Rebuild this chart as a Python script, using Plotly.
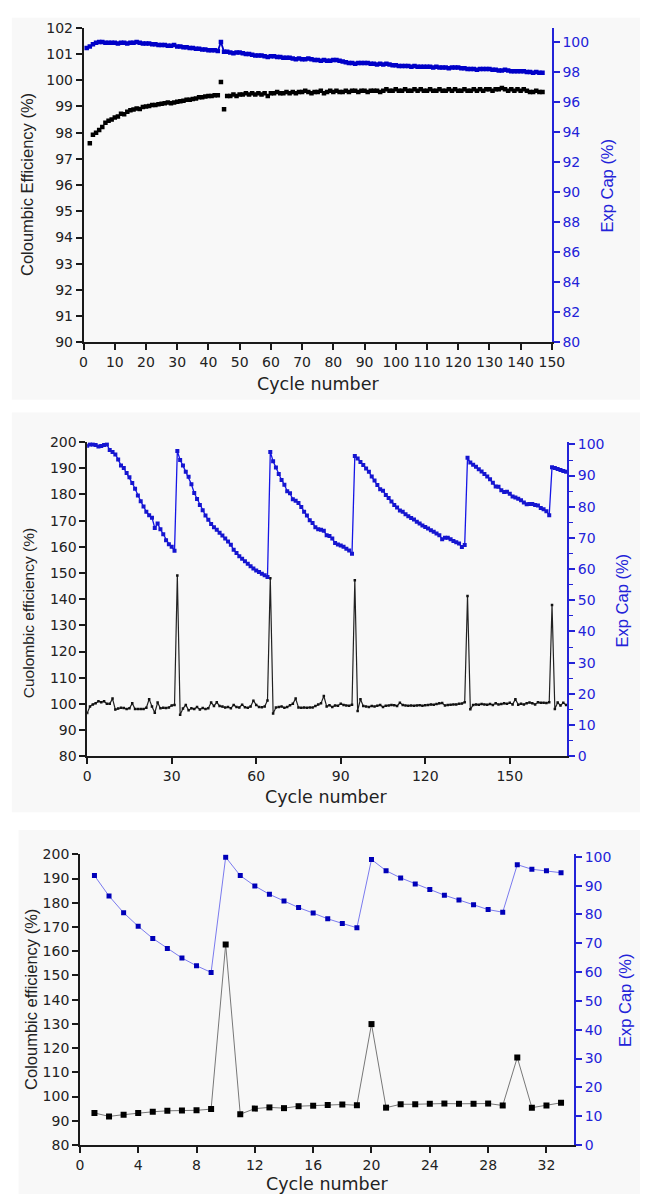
import plotly.graph_objects as go

W, H = 653, 1202

# ---------------- Panel 1 data ----------------
p1_ce_cycles = list(range(2, 148))
p1_ce = [97.6, 97.92, 98.0, 98.1, 98.22, 98.38, 98.45, 98.5, 98.58, 98.62,
         98.72, 98.7, 98.8, 98.85, 98.88, 98.92, 98.9, 98.98, 99.0, 99.02,
         99.05, 99.05, 99.08, 99.1, 99.12, 99.15, 99.12, 99.15, 99.18, 99.2,
         99.22, 99.25, 99.25, 99.28, 99.3, 99.35, 99.35, 99.38, 99.4, 99.4,
         99.43, 99.43, 99.93, 98.89, 99.4, 99.4, 99.45, 99.4, 99.45, 99.45,
         99.5, 99.45, 99.5, 99.45, 99.5, 99.45, 99.5, 99.4, 99.5, 99.5,
         99.55, 99.5, 99.5, 99.55, 99.5, 99.55, 99.5, 99.55, 99.55, 99.6,
         99.55, 99.5, 99.55, 99.55, 99.6, 99.5, 99.55, 99.6, 99.55, 99.6,
         99.55, 99.55, 99.6, 99.55, 99.6, 99.6, 99.55, 99.6, 99.6, 99.55,
         99.6, 99.6, 99.6, 99.55, 99.6, 99.65, 99.6, 99.6, 99.65, 99.6,
         99.6, 99.65, 99.6, 99.6, 99.65, 99.6, 99.65, 99.6, 99.6, 99.65,
         99.6, 99.6, 99.65, 99.6, 99.6, 99.65, 99.6, 99.65, 99.6, 99.6,
         99.65, 99.6, 99.6, 99.65, 99.6, 99.65, 99.6, 99.65, 99.65, 99.6,
         99.65, 99.65, 99.7, 99.65, 99.6, 99.65, 99.6, 99.65, 99.6, 99.65,
         99.6, 99.55, 99.55, 99.6, 99.55, 99.55]
p1_cap_cycles = list(range(1, 148))
p1_cap = [99.6, 99.7, 99.85, 99.95, 100.0, 100.0, 99.95, 99.95, 99.95, 99.95,
          99.9, 99.95, 99.95, 99.9, 99.95, 99.95, 100.0, 99.95, 99.9, 99.9,
          99.9, 99.85, 99.85, 99.8, 99.8, 99.8, 99.75, 99.75, 99.8, 99.7,
          99.7, 99.65, 99.65, 99.6, 99.6, 99.55, 99.55, 99.5, 99.5, 99.45,
          99.45, 99.45, 99.4, 100.0, 99.35, 99.35, 99.3, 99.25, 99.3, 99.3,
          99.25, 99.2, 99.2, 99.15, 99.1, 99.1, 99.1, 99.05, 99.0, 99.05,
          99.05, 99.0, 99.0, 98.95, 98.95, 98.95, 98.9, 98.85, 98.9, 98.85,
          98.85, 98.9, 98.85, 98.8, 98.8, 98.75, 98.8, 98.75, 98.75, 98.8,
          98.8, 98.75, 98.7, 98.65, 98.6, 98.6, 98.55, 98.6, 98.6, 98.6,
          98.6, 98.55, 98.55, 98.5, 98.55, 98.5, 98.55, 98.5, 98.45, 98.45,
          98.4, 98.4, 98.4, 98.4, 98.35, 98.4, 98.35, 98.35, 98.35, 98.35,
          98.35, 98.3, 98.35, 98.3, 98.3, 98.3, 98.25, 98.3, 98.3, 98.3,
          98.25, 98.25, 98.2, 98.2, 98.2, 98.15, 98.2, 98.2, 98.2, 98.2,
          98.15, 98.15, 98.1, 98.1, 98.15, 98.1, 98.05, 98.05, 98.05, 98.05,
          98.05, 98.0, 98.0, 97.95, 98.0, 97.95, 97.95]

# ---------------- Panel 2 data ----------------
p2_cycles = list(range(0, 171))
p2_ce = [96.5, 99.0, 99.8, 100.2, 101.0, 100.6, 101.0, 100.0, 100.0, 102.0,
         97.8, 98.2, 98.5, 98.4, 98.0, 98.3, 100.2, 98.0, 98.0, 98.0,
         98.0, 98.5, 101.8, 99.0, 96.6, 100.5, 98.3, 98.5, 98.4, 98.6,
         99.4, 99.6, 149.0, 95.8, 98.2, 99.6, 97.6, 98.3, 98.0, 98.8,
         97.8, 98.4, 98.0, 98.3, 100.5, 99.2, 100.6, 99.2, 99.0, 98.6,
         98.8, 98.3, 99.6, 98.8, 98.6, 99.7, 98.7, 98.5, 99.0, 101.2,
         99.6, 98.8, 98.7, 99.0, 101.3, 148.0, 96.3, 98.6, 98.8, 99.0,
         98.5, 98.8, 99.5, 100.0, 102.0, 98.6, 98.5, 98.6, 98.5, 98.6,
         98.6, 99.2, 99.8, 100.2, 103.0, 99.0, 99.5, 98.8, 99.4, 99.3,
         100.0, 99.6, 99.4, 99.3, 99.7, 147.2, 97.3, 101.8, 99.2, 99.0,
         98.8, 99.2, 99.0, 99.3, 99.6, 98.8, 99.3, 99.4, 99.6, 99.5,
         99.2, 100.4, 99.6, 99.4, 99.3, 99.4, 99.3, 99.4, 99.5, 99.3,
         99.5, 99.6, 99.8, 99.7, 99.9, 100.2, 100.3, 99.4, 99.6, 99.7,
         99.8, 99.8, 100.0, 100.1, 100.6, 141.2, 97.9, 99.6, 99.8, 99.7,
         99.9, 99.8, 99.7, 99.9, 99.6, 100.2, 99.8, 99.9, 100.2, 100.0,
         100.4, 99.8, 101.8, 99.7, 100.0, 99.8, 100.2, 100.5, 100.2, 99.8,
         100.6, 100.4, 100.4, 100.3, 100.6, 137.8, 98.0, 100.5, 99.4, 100.4,
         99.6]
p2_cap = [99.6, 100.0, 100.0, 99.8, 99.3, 99.5, 99.8, 100.0, 98.2, 97.6,
          96.8, 95.2, 93.2, 92.4, 90.8, 89.5, 87.6, 85.8, 83.6, 81.8,
          80.1, 78.4, 77.3, 76.5, 73.2, 74.6, 72.8, 71.2, 69.3, 68.0,
          67.2, 65.9, 97.9, 95.0, 93.2, 91.2, 89.6, 87.2, 84.4, 82.5,
          80.6, 78.9, 77.2, 75.8, 74.5, 73.4, 72.6, 71.7, 70.8, 69.8,
          68.9, 67.8, 66.2, 65.2, 64.1, 63.3, 62.5, 61.7, 60.9, 60.2,
          59.6, 59.1, 58.5, 58.0, 57.5, 97.6, 94.6, 92.6, 90.5, 88.6,
          87.1, 85.0, 84.3, 82.4, 81.9, 81.2, 79.9, 78.4, 77.2, 75.7,
          74.8, 73.4, 72.8, 72.6, 72.3, 70.9, 70.6, 69.8, 68.4, 67.9,
          67.6, 67.2, 66.5, 66.0, 64.9, 96.3, 95.5, 94.4, 93.4, 92.3,
          91.2, 89.7, 88.4, 87.0, 85.6, 85.1, 83.8, 82.8, 81.7, 80.6,
          79.8, 78.8, 78.4, 77.6, 77.0, 76.4, 75.9, 75.2, 74.6, 74.0,
          73.5, 73.0, 72.5, 72.0, 71.4, 70.9, 69.6, 70.1, 70.1, 69.6,
          69.0, 68.6, 68.2, 67.1, 67.7, 95.7, 94.2, 93.5, 92.8, 92.0,
          91.3, 90.5, 89.7, 88.8, 87.7, 86.5, 86.4, 85.3, 84.7, 84.8,
          84.2, 83.3, 83.0, 82.6, 82.1, 81.4, 80.8, 80.9, 80.9, 80.6,
          80.4, 79.6, 79.2, 78.6, 77.3, 92.7, 92.4, 92.1, 91.8, 91.5,
          91.2]

# ---------------- Panel 3 data ----------------
p3_cycles = list(range(1, 34))
p3_ce = [93.2, 91.8, 92.5, 93.2, 93.7, 94.1, 94.2, 94.3, 94.8, 162.8,
         92.7, 95.0, 95.5, 95.2, 96.0, 96.2, 96.5, 96.7, 96.4, 129.9,
         95.4, 96.8, 96.8, 97.0, 97.1, 97.0, 97.0, 97.1, 96.3, 116.1,
         95.4, 96.3, 97.4]
p3_cap = [93.5, 86.4, 80.6, 75.9, 71.7, 68.2, 64.9, 62.2, 59.9, 99.9,
          93.5, 89.9, 87.0, 84.7, 82.4, 80.5, 78.5, 76.9, 75.4, 99.1,
          95.2, 92.7, 90.6, 88.7, 86.7, 85.0, 83.4, 81.7, 80.8, 97.3,
          95.7, 95.2, 94.5]

# ---------------- Styling ----------------
FONT_H = "DejaVu Sans, Verdana, sans-serif"      # horizontal texts (wide)
FONT_V = "Liberation Sans, Arial, sans-serif"    # vertical titles
BLACK = "#1a1a1a"
BLUE = "#2323d8"
TICKF = dict(family=FONT_H, size=14, color="#222222")
TICKF_B = dict(family=FONT_H, size=14, color=BLUE)


def px_x(v):
    return v / W


def px_y(v):
    return 1 - v / H


fig = go.Figure()

# Panel 1
fig.add_trace(go.Scatter(x=p1_cap_cycles, y=p1_cap, mode="lines+markers",
                         line=dict(color="#0000c8", width=1.8),
                         marker=dict(symbol="square", size=4.5, color="#0000c8"),
                         xaxis="x", yaxis="y2", showlegend=False))
fig.add_trace(go.Scatter(x=p1_ce_cycles, y=p1_ce, mode="markers",
                         marker=dict(symbol="square", size=4.5, color="#000000"),
                         xaxis="x", yaxis="y", showlegend=False))

# Panel 2
fig.add_trace(go.Scatter(x=p2_cycles, y=p2_cap, mode="lines+markers",
                         line=dict(color="#1515e6", width=1.3),
                         marker=dict(symbol="square", size=4, color="#1515d0"),
                         xaxis="x2", yaxis="y4", showlegend=False))
fig.add_trace(go.Scatter(x=p2_cycles, y=p2_ce, mode="lines+markers",
                         line=dict(color="#222222", width=1.2),
                         marker=dict(symbol="square", size=2.5, color="#111111"),
                         xaxis="x2", yaxis="y3", showlegend=False))

# Panel 3
fig.add_trace(go.Scatter(x=p3_cycles, y=p3_cap, mode="lines+markers",
                         line=dict(color="#7a7aee", width=1),
                         marker=dict(symbol="square", size=5, color="#0000b8"),
                         xaxis="x3", yaxis="y6", showlegend=False))
fig.add_trace(go.Scatter(x=p3_cycles, y=p3_ce, mode="lines+markers",
                         line=dict(color="#777777", width=1),
                         marker=dict(symbol="square", size=6, color="#000000"),
                         xaxis="x3", yaxis="y5", showlegend=False))

common = dict(showline=True, linewidth=1.5, ticks="outside", ticklen=6,
              tickwidth=1.5, showgrid=False, zeroline=False, mirror=False)

left_common = dict(common, linecolor=BLACK, tickcolor=BLACK, tickfont=TICKF)
right_common = dict(common, linecolor=BLUE, tickcolor=BLUE, tickfont=TICKF_B,
                    side="right")
bottom_common = dict(common, linecolor=BLACK, tickcolor=BLACK, tickfont=TICKF)

d1x = [px_x(81.7), px_x(562.5)]
d1y = [px_y(339), px_y(20)]
d2x = [px_x(85.4), px_x(578.3)]
d2y = [px_y(758.3), px_y(440)]
d3x = [px_x(77.9), px_x(585.4)]
d3y = [px_y(1152.3), px_y(857.7)]

fig.update_layout(
    width=W, height=H,
    margin=dict(l=0, r=0, t=0, b=0),
    paper_bgcolor="#ffffff",
    plot_bgcolor="rgba(0,0,0,0)",
    xaxis=dict(bottom_common, domain=d1x, range=[0, 150], tick0=0, dtick=10,
               anchor="y"),
    yaxis=dict(left_common, domain=d1y, range=[90, 102], tick0=90, dtick=1,
               anchor="x"),
    yaxis2=dict(right_common, overlaying="y", range=[80, 100.95], tick0=80,
                dtick=2, anchor="x"),
    xaxis2=dict(bottom_common, domain=d2x, range=[0, 170.4], tick0=0, dtick=30,
                anchor="y3"),
    yaxis3=dict(left_common, domain=d2y, range=[80, 200], tick0=80, dtick=10,
                anchor="x2"),
    yaxis4=dict(right_common, overlaying="y3", range=[0, 100.73], tick0=0,
                dtick=10, anchor="x2",
                minor=dict(ticks="outside", ticklen=4, tickwidth=1.2,
                           tickcolor=BLUE, dtick=5, showgrid=False)),
    xaxis3=dict(bottom_common, domain=d3x, range=[0, 33.9], tick0=0, dtick=4,
                anchor="y5"),
    yaxis5=dict(left_common, domain=d3y, range=[80, 200], tick0=80, dtick=10,
                anchor="x3"),
    yaxis6=dict(right_common, overlaying="y5", range=[0, 100.9], tick0=0,
                dtick=10, anchor="x3"),
)

# light panel backgrounds
bg = "#f8f8f8"
for (x0, x1, y0, y1) in [(8, 653, 10, 397), (8, 653, 410, 815),
                         (15, 653, 833, 1202)]:
    fig.add_shape(type="rect", xref="paper", yref="paper",
                  x0=px_x(x0), x1=px_x(x1), y0=px_y(y1), y1=px_y(y0),
                  fillcolor=bg, line=dict(width=0), layer="below")

TITLE_H = dict(family=FONT_H, size=17.5, color="#222222")
TITLE_V = dict(family=FONT_V, size=16.5, color="#222222")
TITLE_VB = dict(family=FONT_V, size=16.5, color=BLUE)


def ann(text, cx, cy, font, angle=0):
    fig.add_annotation(text=text, x=px_x(cx), y=px_y(cy), xref="paper",
                       yref="paper", showarrow=False, textangle=angle,
                       font=font, xanchor="center", yanchor="middle")


ann("Cycle number", 322, 381, TITLE_H)
ann("Coloumbic Efficiency (%)", 23, 179, TITLE_V, -90)
ann("Exp Cap (%)", 619, 180, TITLE_VB, -90)

ann("Cycle number", 331, 800, TITLE_H)
ann("Cuolombic efficiency (%)", 25, 613, dict(TITLE_V, size=15.5), -90)
ann("Exp Cap (%)", 635, 600, TITLE_VB, -90)

ann("Cycle number", 332, 1192, TITLE_H)
ann("Coloumbic efficiency (%)", 27, 1005, TITLE_V, -90)
ann("Exp Cap (%)", 637, 1005, TITLE_VB, -90)

fig.write_html("out.html")
